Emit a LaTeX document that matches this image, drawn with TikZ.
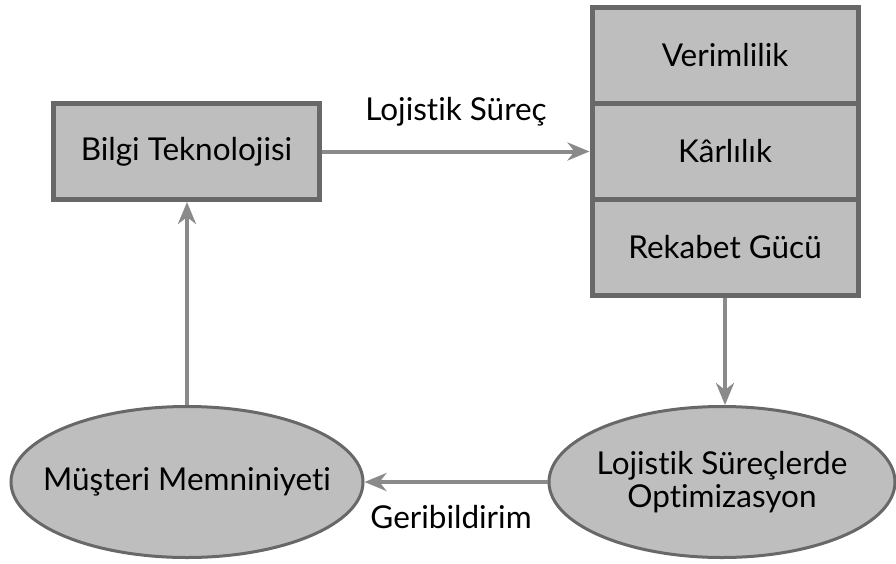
\documentclass[tikz,border=0pt]{standalone}
\usepackage{fontspec}
\setmainfont{Lato}[Ligatures={NoCommon,NoRare}]
\usetikzlibrary{shapes.geometric,arrows.meta}
\definecolor{boxfill}{HTML}{BEBEBE}
\definecolor{boxline}{HTML}{686868}
\definecolor{arrowgray}{HTML}{8A8A8A}
\begin{document}
\begin{tikzpicture}[x=1pt,y=-1pt,
  txt/.style={font=\fontsize{31.5}{33}\selectfont, text=black, align=center},
  cell/.style={txt, draw=boxline, line width=5pt, fill=boxfill,
    minimum width=266pt, minimum height=96pt, inner sep=0pt},
  oval/.style={ellipse, draw=boxline, line width=3pt, fill=boxfill,
    minimum height=151pt, inner sep=0pt},
  link/.style={draw=arrowgray, line width=4pt,
    -{Stealth[length=22pt,width=18pt,inset=7pt]}},
]
\useasboundingbox (0,0) rectangle (896,563);

% left box
\node[cell] (bilgi) at (186.5,151.5) {Bilgi Teknolojisi};

% right stack of three cells
\node[cell] (verim) at (725,55.5) {Verimlilik};
\node[cell] (kar) at (725,151.5) {Kârlılık};
\node[cell] (rek) at (725,247.5) {Rekabet Gücü};

% ellipses, with their texts set on top
\node[oval, minimum width=352pt] (mus) at (187,482) {};
\node[txt] (musT) at (mus.center) {Müşteri Memniniyeti};
\node[oval, minimum width=346pt] (opt) at (722,482) {};
\node[txt] (optT) at (opt.center) {Lojistik Süreçlerde\\Optimizasyon};

% connectors
\draw[link] (bilgi.east) -- (kar.west);
\draw[link] (rek.south) -- (rek.south |- opt.north);
\draw[link] (opt.west) -- (mus.east);
\draw[link] (mus.north) -- (mus.north |- bilgi.south);

% connector labels
\node[txt] (lblA) at (456,112) {Lojistik Süreç};
\node[txt] (lblB) at (451,517) {Geribildirim};
\end{tikzpicture}
\end{document}
